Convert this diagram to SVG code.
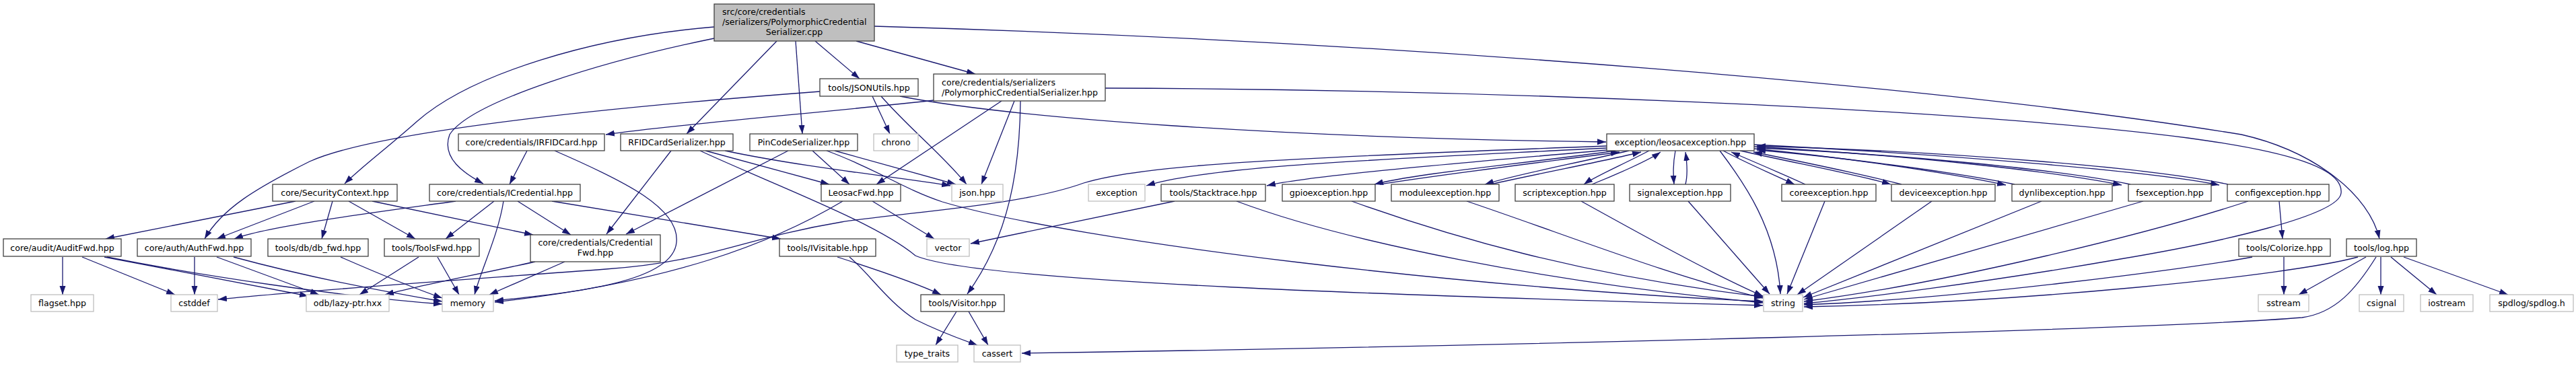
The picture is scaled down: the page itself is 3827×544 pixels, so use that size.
<svg xmlns="http://www.w3.org/2000/svg" width="3827" height="544" viewBox="0 0 3827 544">
<style>
.e{fill:none;stroke:#191970;stroke-width:1.3;marker-end:url(#ah)}
.n rect{fill:#fff;stroke:#404040;stroke-width:1.3}
.x rect{fill:#fff;stroke:#bfbfbf;stroke-width:1.3}
.r rect{fill:#bfbfbf;stroke:#404040;stroke-width:1.3}
text{font-family:"DejaVu Sans","Liberation Sans",sans-serif;font-size:12.6px;fill:#000}
.c{text-anchor:middle}
</style>
<defs>
<marker id="ah" markerUnits="userSpaceOnUse" markerWidth="14" markerHeight="10" viewBox="0 0 14 10" refX="13" refY="5" orient="auto"><path d="M0,0.5 L13,5 L0,9.5 z" fill="#191970"/></marker>
</defs>
<rect width="3827" height="544" fill="#fff"/>
<g id="connectors">
<path class="e" d="M1061,40 C880,55 700,110 620,180 C575,220 535,250 512,273"/>
<path class="e" d="M1061,57 C900,90 700,150 668,200 C655,235 690,258 718,273"/>
<path class="e" d="M1154,61 L1020,199"/>
<path class="e" d="M1182,61 L1192,199"/>
<path class="e" d="M1211,61 L1277,117"/>
<path class="e" d="M1272,61 L1449,110"/>
<path class="e" d="M1299,39 C2100,62 2900,130 3330,200 C3440,225 3520,290 3535,355"/>
<path class="e" d="M1642,131 C2200,133 2900,160 3250,205 C3400,225 3482,250 3478,287 C3475,320 3300,360 3150,385 C2950,420 2750,445 2680,451"/>
<path class="e" d="M1488,150 L1302,274"/>
<path class="e" d="M1507,150 L1458,274"/>
<path class="e" d="M1516,150 C1515,250 1500,350 1437,437"/>
<path class="e" d="M1387,149 C1250,165 1000,185 900,200"/>
<path class="e" d="M1309,143 C1350,190 1400,230 1436,274"/>
<path class="e" d="M1296,143 L1322,199"/>
<path class="e" d="M1337,143 C1500,175 1900,205 2386,211"/>
<path class="e" d="M1218,136 C900,160 560,195 460,240 C380,280 330,310 304,355"/>
<path class="e" d="M997,224 L901,348"/>
<path class="e" d="M1171,224 L930,348"/>
<path class="e" d="M1048,224 L1232,274"/>
<path class="e" d="M1207,224 L1262,274"/>
<path class="e" d="M1077,224 C1200,250 1350,265 1412,276"/>
<path class="e" d="M1240,224 L1420,274"/>
<path class="e" d="M1040,224 C1150,275 1300,330 1360,380 C1450,420 2100,440 2619,454"/>
<path class="e" d="M1228,224 C1300,250 1340,280 1400,300 C1600,360 2200,430 2619,448"/>
<path class="e" d="M783,224 L757,274"/>
<path class="e" d="M824,224 C930,270 1010,310 1005,360 C1000,420 850,435 735,447"/>
<path class="e" d="M439,299 L157,355"/>
<path class="e" d="M467,299 L322,355"/>
<path class="e" d="M494,299 L478,355"/>
<path class="e" d="M518,299 L617,355"/>
<path class="e" d="M553,299 L792,349"/>
<path class="e" d="M677,299 C600,310 400,335 348,355"/>
<path class="e" d="M734,299 L662,355"/>
<path class="e" d="M748,299 C740,350 715,400 705,438"/>
<path class="e" d="M769,299 L848,349"/>
<path class="e" d="M820,299 L1160,355"/>
<path class="e" d="M1252,299 C1150,360 1000,420 735,449"/>
<path class="e" d="M1296,299 L1388,355"/>
<path class="e" d="M839,389 L727,438"/>
<path class="e" d="M795,389 C700,410 620,425 572,438"/>
<path class="e" d="M622,382 L534,438"/>
<path class="e" d="M650,382 L682,438"/>
<path class="e" d="M506,382 C570,410 620,430 657,443"/>
<path class="e" d="M289,382 L289,438"/>
<path class="e" d="M322,382 L474,438"/>
<path class="e" d="M347,382 C450,410 550,430 657,448"/>
<path class="e" d="M93,382 L93,438"/>
<path class="e" d="M122,382 L260,438"/>
<path class="e" d="M155,382 L458,440"/>
<path class="e" d="M159,382 C300,410 500,440 657,452"/>
<path class="e" d="M1244,382 C1300,400 1360,420 1398,438"/>
<path class="e" d="M1262,382 C1290,405 1320,450 1360,475 C1400,495 1430,505 1452,513"/>
<path class="e" d="M1421,463 L1390,513"/>
<path class="e" d="M1439,463 L1468,513"/>
<path class="e" d="M2387,217 C1900,235 1700,245 1610,272 C1520,305 1350,315 1250,330 C1100,355 1050,390 900,400 C700,415 450,432 324,445"/>
<path class="e" d="M2387,220 C2100,235 1800,245 1703,276"/>
<path class="e" d="M2387,223 C2200,240 1950,260 1882,276"/>
<path class="e" d="M1837,299 C2000,360 2300,420 2619,450"/>
<path class="e" d="M1745,299 L1442,362"/>
<path class="e" d="M2555,224 C2590,270 2640,340 2645,437"/>
<path class="e" d="M2400,224 C2250,245 2100,258 2042,274"/>
<path class="e" d="M2050,274 C2150,258 2300,240 2406,226"/>
<path class="e" d="M2420,224 C2330,245 2250,260 2206,274"/>
<path class="e" d="M2214,274 C2300,255 2390,238 2438,226"/>
<path class="e" d="M2450,224 C2410,245 2370,262 2353,274"/>
<path class="e" d="M2365,274 C2400,260 2450,238 2467,226"/>
<path class="e" d="M2489,224 C2485,245 2486,260 2487,274"/>
<path class="e" d="M2504,274 C2508,258 2506,240 2504,226"/>
<path class="e" d="M2560,224 C2600,245 2640,262 2666,274"/>
<path class="e" d="M2682,274 C2640,255 2600,238 2572,226"/>
<path class="e" d="M2585,224 C2680,245 2770,262 2809,274"/>
<path class="e" d="M2825,274 C2750,255 2650,235 2605,226"/>
<path class="e" d="M2606,221 C2750,235 2900,258 2980,275"/>
<path class="e" d="M2993,274 C2900,255 2720,232 2610,223"/>
<path class="e" d="M2606,218 C2850,232 3050,255 3152,275"/>
<path class="e" d="M3165,274 C3050,250 2800,228 2610,220"/>
<path class="e" d="M2606,215 C2900,230 3200,255 3297,275"/>
<path class="e" d="M3310,274 C3200,250 2900,225 2610,217"/>
<path class="e" d="M2008,299 C2150,350 2350,410 2619,441"/>
<path class="e" d="M2179,299 C2330,350 2480,410 2619,443"/>
<path class="e" d="M2349,299 C2450,355 2550,410 2619,440"/>
<path class="e" d="M2508,299 L2629,437"/>
<path class="e" d="M2711,299 L2655,437"/>
<path class="e" d="M2870,299 L2670,438"/>
<path class="e" d="M3033,299 L2679,442"/>
<path class="e" d="M3184,299 L2680,445"/>
<path class="e" d="M3340,299 C3200,345 2900,420 2680,448"/>
<path class="e" d="M3346,382 C3250,400 2900,445 2680,453"/>
<path class="e" d="M3503,382 C3400,410 3000,450 2680,456"/>
<path class="e" d="M3530,382 C3500,430 3470,465 3420,472 C3200,490 2200,515 1518,525"/>
<path class="e" d="M3386,299 L3391,355"/>
<path class="e" d="M3393,382 L3393,438"/>
<path class="e" d="M3515,382 L3415,438"/>
<path class="e" d="M3537,382 L3537,438"/>
<path class="e" d="M3552,382 L3620,438"/>
<path class="e" d="M3571,382 L3726,438"/>
</g>
<g id="n_pcs_cpp" class="r"><rect x="1061" y="6" width="238" height="55"/><text x="1073" y="22">src/core/credentials</text><text x="1073" y="37">/serializers/PolymorphicCredential</text><text class="c" x="1180" y="52">Serializer.cpp</text></g>
<g id="n_pcs_hpp" class="n"><rect x="1387" y="110" width="255" height="40"/><text x="1399" y="126.5">core/credentials/serializers</text><text x="1399" y="141.5">/PolymorphicCredentialSerializer.hpp</text></g>
<g id="n_jsonutils" class="n"><rect x="1218" y="117" width="146" height="26"/><text class="c" x="1291" y="134.5">tools/JSONUtils.hpp</text></g>
<g id="n_irfidcard" class="n"><rect x="681" y="199" width="217" height="25"/><text class="c" x="789.5" y="216">core/credentials/IRFIDCard.hpp</text></g>
<g id="n_rfidser" class="n"><rect x="922" y="199" width="167" height="25"/><text class="c" x="1005.5" y="216">RFIDCardSerializer.hpp</text></g>
<g id="n_pinser" class="n"><rect x="1114" y="199" width="160" height="25"/><text class="c" x="1194" y="216">PinCodeSerializer.hpp</text></g>
<g id="n_chrono" class="x"><rect x="1298" y="199" width="66" height="25"/><text class="c" x="1331" y="216">chrono</text></g>
<g id="n_leosacexc" class="n"><rect x="2387" y="199" width="219" height="25"/><text class="c" x="2496.5" y="216">exception/leosacexception.hpp</text></g>
<g id="n_secctx" class="n"><rect x="405" y="274" width="185" height="25"/><text class="c" x="497.5" y="291">core/SecurityContext.hpp</text></g>
<g id="n_icred" class="n"><rect x="638" y="274" width="224" height="25"/><text class="c" x="750" y="291">core/credentials/ICredential.hpp</text></g>
<g id="n_leosacfwd" class="n"><rect x="1220" y="274" width="118" height="25"/><text class="c" x="1279" y="291">LeosacFwd.hpp</text></g>
<g id="n_json" class="x"><rect x="1414" y="274" width="76" height="25"/><text class="c" x="1452" y="291">json.hpp</text></g>
<g id="n_exception" class="x"><rect x="1617" y="274" width="84" height="25"/><text class="c" x="1659" y="291">exception</text></g>
<g id="n_stacktrace" class="n"><rect x="1725" y="274" width="155" height="25"/><text class="c" x="1802.5" y="291">tools/Stacktrace.hpp</text></g>
<g id="n_gpioexc" class="n"><rect x="1905" y="274" width="138" height="25"/><text class="c" x="1974" y="291">gpioexception.hpp</text></g>
<g id="n_moduleexc" class="n"><rect x="2067" y="274" width="160" height="25"/><text class="c" x="2147" y="291">moduleexception.hpp</text></g>
<g id="n_scriptexc" class="n"><rect x="2251" y="274" width="147" height="25"/><text class="c" x="2324.5" y="291">scriptexception.hpp</text></g>
<g id="n_signalexc" class="n"><rect x="2421" y="274" width="150" height="25"/><text class="c" x="2496" y="291">signalexception.hpp</text></g>
<g id="n_coreexc" class="n"><rect x="2647" y="274" width="140" height="25"/><text class="c" x="2717" y="291">coreexception.hpp</text></g>
<g id="n_deviceexc" class="n"><rect x="2810" y="274" width="154" height="25"/><text class="c" x="2887" y="291">deviceexception.hpp</text></g>
<g id="n_dynlibexc" class="n"><rect x="2989" y="274" width="149" height="25"/><text class="c" x="3063.5" y="291">dynlibexception.hpp</text></g>
<g id="n_fsexc" class="n"><rect x="3162" y="274" width="123" height="25"/><text class="c" x="3223.5" y="291">fsexception.hpp</text></g>
<g id="n_configexc" class="n"><rect x="3309" y="274" width="151" height="25"/><text class="c" x="3384.5" y="291">configexception.hpp</text></g>
<g id="n_credfwd" class="n"><rect x="788" y="349" width="193" height="40"/><text class="c" x="884.5" y="364.5">core/credentials/Credential</text><text class="c" x="884.5" y="379.5">Fwd.hpp</text></g>
<g id="n_auditfwd" class="n"><rect x="5" y="355" width="175" height="26"/><text class="c" x="92.5" y="372.5">core/audit/AuditFwd.hpp</text></g>
<g id="n_authfwd" class="n"><rect x="204" y="355" width="169" height="26"/><text class="c" x="288.5" y="372.5">core/auth/AuthFwd.hpp</text></g>
<g id="n_dbfwd" class="n"><rect x="398" y="355" width="149" height="26"/><text class="c" x="472.5" y="372.5">tools/db/db_fwd.hpp</text></g>
<g id="n_toolsfwd" class="n"><rect x="571" y="355" width="141" height="26"/><text class="c" x="641.5" y="372.5">tools/ToolsFwd.hpp</text></g>
<g id="n_ivisitable" class="n"><rect x="1158" y="355" width="143" height="26"/><text class="c" x="1229.5" y="372.5">tools/IVisitable.hpp</text></g>
<g id="n_vector" class="x"><rect x="1377" y="355" width="63" height="26"/><text class="c" x="1408.5" y="372.5">vector</text></g>
<g id="n_colorize" class="n"><rect x="3326" y="355" width="136" height="26"/><text class="c" x="3394" y="372.5">tools/Colorize.hpp</text></g>
<g id="n_log" class="n"><rect x="3486" y="355" width="104" height="26"/><text class="c" x="3538" y="372.5">tools/log.hpp</text></g>
<g id="n_flagset" class="x"><rect x="46" y="438" width="93" height="25"/><text class="c" x="92.5" y="455">flagset.hpp</text></g>
<g id="n_cstddef" class="x"><rect x="254" y="438" width="69" height="25"/><text class="c" x="288.5" y="455">cstddef</text></g>
<g id="n_odb" class="x"><rect x="455" y="438" width="123" height="25"/><text class="c" x="516.5" y="455">odb/lazy-ptr.hxx</text></g>
<g id="n_memory" class="x"><rect x="657" y="438" width="76" height="25"/><text class="c" x="695" y="455">memory</text></g>
<g id="n_visitor" class="n"><rect x="1368" y="438" width="124" height="25"/><text class="c" x="1430" y="455">tools/Visitor.hpp</text></g>
<g id="n_string" class="x"><rect x="2620" y="438" width="58" height="25"/><text class="c" x="2649" y="455">string</text></g>
<g id="n_sstream" class="x"><rect x="3355" y="438" width="75" height="25"/><text class="c" x="3392.5" y="455">sstream</text></g>
<g id="n_csignal" class="x"><rect x="3505" y="438" width="66" height="25"/><text class="c" x="3538" y="455">csignal</text></g>
<g id="n_iostream" class="x"><rect x="3596" y="438" width="78" height="25"/><text class="c" x="3635" y="455">iostream</text></g>
<g id="n_spdlog" class="x"><rect x="3699" y="438" width="124" height="25"/><text class="c" x="3761" y="455">spdlog/spdlog.h</text></g>
<g id="n_typetraits" class="x"><rect x="1332" y="513" width="91" height="25"/><text class="c" x="1377.5" y="530">type_traits</text></g>
<g id="n_cassert" class="x"><rect x="1447" y="513" width="69" height="25"/><text class="c" x="1481.5" y="530">cassert</text></g>
</svg>
